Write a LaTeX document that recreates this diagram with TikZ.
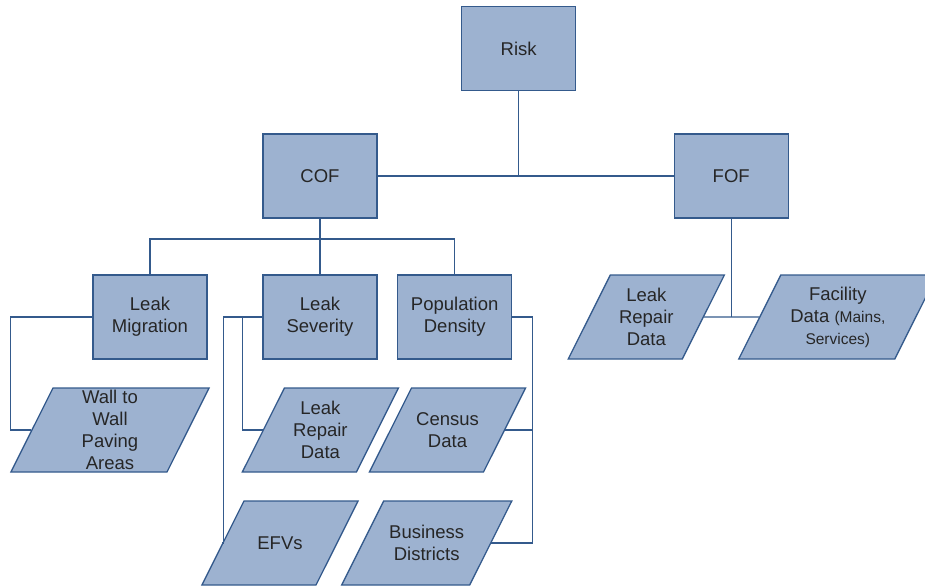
\documentclass[tikz,border=0pt]{standalone}
\usepackage{fontspec}
\setmainfont{Liberation Sans}
\usetikzlibrary{shapes.geometric}
\definecolor{boxfill}{RGB}{157,178,208}
\definecolor{boxline}{RGB}{52,90,140}
\definecolor{boxtext}{RGB}{38,38,38}
\newcommand{\smalltxt}[1]{{\fontsize{15.5}{21}\selectfont #1}}

\begin{document}
\begin{tikzpicture}[x=1pt,y=-1pt]
	\useasboundingbox (0,0) rectangle (925,586);

	\begin{scope}[every node/.style={rectangle,draw=boxline,fill=boxfill,line width=1.3pt,
	              minimum width=114pt,minimum height=84pt,inner sep=0pt,align=center,
	              text=boxtext,font=\fontsize{18.5}{22}\selectfont}]
		\node (risk) at (518.7,48.5) {Risk};
		\node (cof) at (320,176) {COF};
		\node (fof) at (731.2,176) {FOF};
		\node (mig) at (150,317) {Leak\\Migration};
		\node (sev) at (320,317) {Leak\\Severity};
		\node (pop) at (454.7,317) {Population\\Density};
	\end{scope}

	\begin{scope}[datashape/.style={execute at begin node={\begin{minipage}[c][84pt][c]{#1}\centering},
	                                execute at end node={\end{minipage}}},
	              every node/.style={trapezium,trapezium left angle=63.4,trapezium right angle=116.6,
	              draw=boxline,fill=boxfill,line width=1.3pt,inner sep=0pt,
	              text=boxtext,font=\fontsize{18.5}{22}\selectfont}]
		\node[datashape=114pt] (wall) at (110,430) {Wall to\\Wall\\Paving\\Areas};
		\node[datashape=72pt] (sevrep) at (320.4,430) {Leak\\Repair\\Data};
		\node[datashape=72pt] (census) at (447.5,430) {Census\\Data};
		\node[datashape=72pt] (efv) at (280,543) {EFVs};
		\node[datashape=86pt] (bus) at (426.7,543) {Business\\Districts};
		\node[datashape=72pt] (fofrep) at (646.3,317) {Leak\\Repair\\Data};
		\node[datashape=114pt] (fac) at (837.8,317) {Facility\\Data \smalltxt{(Mains,}\\\smalltxt{Services)}};
	\end{scope}

	\begin{scope}[line width=1.2pt,draw=boxline]
		% top level
		\draw (risk.south) -- (risk.south |- cof.east);
		\draw (cof.east) -- (fof.west);
		% COF branches
		\coordinate (cofjoin) at (320,239);
		\draw (cof.south) -- (cofjoin) -- (sev.north);
		\draw (mig.north) |- (cofjoin) -| (pop.north);
		% leak migration
		\coordinate (migleft) at (10.7,317);
		\draw (mig.west) -- (migleft) |- (wall.west);
		% leak severity
		\coordinate (sevouter) at (223.3,317);
		\coordinate (sevinner) at (242.3,317);
		\draw (sev.west) -- (sevouter) |- (efv.west);
		\draw (sevinner) |- (sevrep.west);
		% population density
		\coordinate (popright) at (532.7,317);
		\draw (pop.east) -- (popright) |- (bus.east);
		\draw (popright) |- (census.east);
		% FOF
		\coordinate (fofjoin) at (731.2,317);
		\draw (fof.south) -- (fofjoin);
		\draw (fofrep.east) -- (fac.west);
	\end{scope}
\end{tikzpicture}
\end{document}
